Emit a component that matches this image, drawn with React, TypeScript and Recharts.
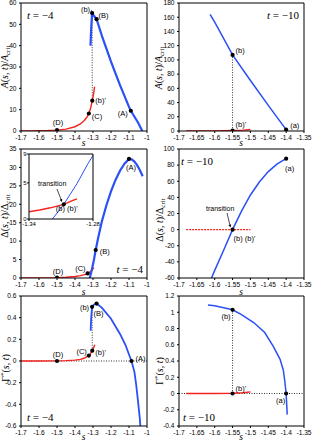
import React from "react";
import { ComposedChart, Line, Scatter, XAxis, YAxis, ReferenceLine } from "recharts";

const BLUE = "#2b50f5";
const RED = "#f5231e";
const SANS = "'Liberation Sans', Arial, sans-serif";
const SERIF = "'Liberation Serif', 'Times New Roman', serif";

// tick values
const S_T4 = [-1.7, -1.6, -1.5, -1.4, -1.3, -1.2, -1.1, -1];
const S_T10 = [-1.7, -1.65, -1.6, -1.55, -1.5, -1.45, -1.4, -1.35];
const A_T4 = [0, 10, 20, 30, 40, 50, 60];
const A_T10 = [0, 20, 40, 60, 80, 100, 120, 140, 160, 180];
const D_T4 = [0, 5, 10, 15, 20, 25, 30, 35];
const D_T10 = [-60, -40, -20, 0, 20, 40, 60, 80, 100];
const G_T4 = [-0.6, -0.4, -0.2, 0, 0.2, 0.4, 0.6];
const G_T10 = [-0.4, -0.2, 0, 0.2, 0.4, 0.6, 0.8, 1, 1.2];
const IN_S = [-1.34, -1.28];
const IN_D = [0, 5, 9];

// t = -4 : A(s,t)/Acrit
const A4_RED = [[-1.7, 0], [-1.65, 0.05], [-1.6, 0.1], [-1.55, 0.2], [-1.5, 0.4], [-1.45, 0.9], [-1.4, 2], [-1.37, 3.3], [-1.35, 4.8], [-1.335, 6.3], [-1.323, 8.2], [-1.313, 10.8], [-1.304, 14.2], [-1.297, 17.3], [-1.291, 20.8]];
const A4_BLUE = [[-1.314, 40], [-1.31, 48], [-1.305, 55.3], [-1.295, 54], [-1.28, 52.4], [-1.25, 44.5], [-1.2, 32.5], [-1.15, 21.5], [-1.1, 11.3], [-1.09, 9.5], [-1.05, 4], [-1.026, 0]];
const A4_MARKS: [number, number, string][] = [[-1.5, 0.4, "(D)"], [-1.323, 8.2, "(C)"], [-1.304, 14.2, "(b)'"], [-1.305, 55.3, "(b)"], [-1.28, 52.4, "(B)"], [-1.09, 9.5, "(A)"]];

// t = -10 : A(s,t)/Acrit
const A10_RED = [[-1.68, 0], [-1.6, 0.1], [-1.55, 0.6], [-1.52, 1.2], [-1.5, 2.2]];
const A10_BLUE = [[-1.613, 164], [-1.6, 153], [-1.55, 107], [-1.5, 71], [-1.45, 36], [-1.4, 2]];
const A10_MARKS: [number, number, string][] = [[-1.55, 107, "(b)"], [-1.55, 0.6, "(b)'"], [-1.4, 2, "(a)"]];

// t = -4 : Delta(s,t)/Delta_crit
const D4_RED = [[-1.7, 0], [-1.6, 0.02], [-1.5, 0.1], [-1.45, 0.2], [-1.4, 0.4], [-1.37, 0.65], [-1.34, 1.0], [-1.33, 1.25], [-1.32, 1.55], [-1.3074, 2.03], [-1.3, 2.5], [-1.295, 2.8]];
const D4_BLUE = [[-1.318, 0], [-1.3074, 2.03], [-1.295, 4.9], [-1.285, 7.6], [-1.27, 11.2], [-1.25, 15.5], [-1.225, 19.8], [-1.2, 23.5], [-1.175, 26.6], [-1.15, 29.1], [-1.125, 31], [-1.1, 32.3], [-1.085, 32.2], [-1.07, 31.6], [-1.055, 30.6], [-1.04, 29.3], [-1.024, 27.6]];
const D4_MARKS: [number, number, string][] = [[-1.5, 0.1, "(D)"], [-1.33, 1.25, "(C)"], [-1.285, 7.6, "(B)"], [-1.1, 32.3, "(A)"]];
const IN_MARKS: [number, number, string][] = [[-1.3074, 2.03, "(b) (b)'"]];

// t = -10 : Delta(s,t)/Delta_crit
const D10_RED = [[-1.68, 0], [-1.6, 0], [-1.55, 0], [-1.5, 0]];
const D10_BLUE = [[-1.609, -60], [-1.6, -50.5], [-1.575, -25.5], [-1.55, 0], [-1.525, 23], [-1.5, 43], [-1.475, 59], [-1.45, 72], [-1.425, 81.5], [-1.4, 88]];
const D10_MARKS: [number, number, string][] = [[-1.4, 88, "(a)"], [-1.55, 0, "(b) (b)'"]];

// t = -4 : Gamma*(s,t)
const G4_RED = [[-1.7, 0], [-1.6, 0], [-1.5, 0.001], [-1.45, 0.003], [-1.4, 0.008], [-1.37, 0.015], [-1.35, 0.025], [-1.323, 0.05], [-1.313, 0.07], [-1.304, 0.095], [-1.297, 0.12], [-1.29, 0.15]];
const G4_BLUE = [[-1.313, 0.28], [-1.31, 0.4], [-1.305, 0.5], [-1.295, 0.52], [-1.28, 0.53], [-1.25, 0.49], [-1.2, 0.39], [-1.15, 0.25], [-1.12, 0.15], [-1.1, 0.06], [-1.086, 0], [-1.07, -0.1], [-1.06, -0.22], [-1.05, -0.37], [-1.04, -0.53], [-1.037, -0.6]];
const G4_MARKS: [number, number, string][] = [[-1.5, 0, "(D)"], [-1.323, 0.05, "(C)"], [-1.304, 0.095, "(b)'"], [-1.305, 0.5, "(b)"], [-1.28, 0.53, "(B)"], [-1.086, 0, "(A)"]];

// t = -10 : Gamma*(s,t)
const G10_RED = [[-1.68, 0], [-1.6, 0], [-1.55, 0.003], [-1.52, 0.01], [-1.5, 0.02]];
const G10_BLUE = [[-1.619, 1.09], [-1.6, 1.08], [-1.55, 1.03], [-1.525, 0.97], [-1.49, 0.87], [-1.46, 0.75], [-1.436, 0.58], [-1.417, 0.42], [-1.408, 0.29], [-1.404, 0.16], [-1.4, 0], [-1.397, -0.26]];
const G10_MARKS: [number, number, string][] = [[-1.55, 1.03, "(b)"], [-1.55, 0, "(b)'"], [-1.4, 0, "(a)"]];

type Anchor = "start" | "middle" | "end";
type Lbl = Record<string, [number, number, Anchor]>;

const pts = (rows: number[][]) => rows.map(([s, v]) => ({ s, v }));
const fmt = (v: number) => String(v);

function Panel(props: {
  box: [number, number, number, number];
  xd: [number, number];
  xt: number[];
  yd: [number, number];
  yt: number[];
  red: number[][];
  blue: number[][];
  marks: [number, number, string][];
  lbl: Lbl;
  guide?: [string, string];
  zero?: boolean;
  redDash?: string;
  yw?: number;
  xh?: number;
  fs?: number;
  lw?: number;
  tm?: number;
}) {
  const { box, xd, xt, yd, yt, red, blue, marks, lbl, guide, zero, redDash } = props;
  const yw = props.yw ?? 22;
  const xh = props.xh ?? 15;
  const fs = props.fs ?? 6.6;
  const lw = props.lw ?? 1.8;
  const tm = props.tm ?? 2.5;
  const [bx, by, bw, bh] = box;
  const top = 5;
  const right = 10;
  const markData = marks.map(([s, v, name]) => ({ s, v, name }));
  let guideData: { s: number; v: number }[] = [];
  if (guide) {
    const a = markData.find((m) => m.name === guide[0])!;
    const b = markData.find((m) => m.name === guide[1])!;
    guideData = [{ s: a.s, v: a.v }, { s: b.s, v: b.v }];
  }
  const tickStyle = { fontSize: fs, fill: "#000", fontFamily: SANS };
  const shape = (p: any) => {
    const { cx, cy, payload } = p;
    const l = lbl[payload.name] || [4, 0, "start"];
    return (
      <g>
        <circle cx={cx} cy={cy} r={2.1} fill="#000" />
        <text x={cx + l[0]} y={cy + l[1]} textAnchor={l[2]} fontSize={7.5} fontFamily={SANS} fill="#000">
          {payload.name}
        </text>
      </g>
    );
  };
  return (
    <div style={{ position: "absolute", left: bx - yw, top: by - top }}>
      <ComposedChart
        width={bw + yw + right}
        height={bh + top + xh}
        margin={{ top: top - 1, right: right - 1, bottom: 0, left: 0 }}
      >
        <XAxis
          dataKey="s"
          type="number"
          domain={xd}
          ticks={xt}
          interval={0}
          allowDataOverflow
          tickFormatter={fmt}
          tick={tickStyle}
          tickSize={2}
          tickMargin={tm}
          height={xh}
          stroke="#000"
        />
        <XAxis
          xAxisId="top"
          orientation="top"
          mirror
          type="number"
          domain={xd}
          ticks={xt}
          interval={0}
          allowDataOverflow
          tick={false}
          tickSize={2.5}
          height={1}
          stroke="#000"
        />
        <YAxis
          dataKey="v"
          type="number"
          domain={yd}
          ticks={yt}
          interval={0}
          allowDataOverflow
          tickFormatter={fmt}
          tick={tickStyle}
          tickSize={2}
          tickMargin={tm}
          width={yw}
          stroke="#000"
        />
        <YAxis
          yAxisId="right"
          orientation="right"
          mirror
          type="number"
          domain={yd}
          ticks={yt}
          interval={0}
          allowDataOverflow
          tick={false}
          tickSize={2.5}
          width={1}
          stroke="#000"
        />
        {zero && <ReferenceLine y={0} stroke="#000" strokeWidth={0.8} strokeDasharray="1 1.5" />}
        {guide && (
          <Line data={guideData} dataKey="v" stroke="#000" strokeWidth={0.8} strokeDasharray="1 1.5" dot={false} isAnimationActive={false} />
        )}
        <Line data={pts(red)} dataKey="v" stroke={RED} strokeWidth={1.4} strokeDasharray={redDash} dot={false} isAnimationActive={false} />
        <Line data={pts(blue)} dataKey="v" stroke={BLUE} strokeWidth={lw} dot={false} isAnimationActive={false} />
        <Scatter data={markData} shape={shape} isAnimationActive={false} />
      </ComposedChart>
    </div>
  );
}

function Arrow({ x1, y1, x2, y2 }: { x1: number; y1: number; x2: number; y2: number }) {
  const dx = x2 - x1;
  const dy = y2 - y1;
  const len = Math.hypot(dx, dy);
  const ux = dx / len;
  const uy = dy / len;
  const hx = x2 - ux * 3;
  const hy = y2 - uy * 3;
  return (
    <g>
      <line x1={x1} y1={y1} x2={hx} y2={hy} stroke="#000" strokeWidth={0.7} />
      <polygon points={`${x2},${y2} ${hx - uy * 1.4},${hy + ux * 1.4} ${hx + uy * 1.4},${hy - ux * 1.4}`} fill="#000" />
    </g>
  );
}

function YTitle({ x, y, kind }: { x: number; y: number; kind: "A" | "D" | "G" }) {
  return (
    <text transform={`translate(${x},${y}) rotate(-90)`} textAnchor="middle" fontFamily={SERIF} fontSize={10} fill="#000">
      {kind === "A" && (
        <>
          <tspan fontStyle="italic">A</tspan>(<tspan fontStyle="italic">s</tspan>, <tspan fontStyle="italic">t</tspan>)/
          <tspan fontStyle="italic">A</tspan>
          <tspan fontSize={7} dy={2}>crit</tspan>
        </>
      )}
      {kind === "D" && (
        <>
          Δ(<tspan fontStyle="italic">s</tspan>, <tspan fontStyle="italic">t</tspan>)/Δ
          <tspan fontSize={7} dy={2}>crit</tspan>
        </>
      )}
      {kind === "G" && (
        <>
          Γ<tspan fontSize={7} dy={-4}>*</tspan>
          <tspan dy={4}>(</tspan>
          <tspan fontStyle="italic">s</tspan>, <tspan fontStyle="italic">t</tspan>)
        </>
      )}
    </text>
  );
}

function TLabel({ x, y, val, anchor = "start" }: { x: number; y: number; val: string; anchor?: Anchor }) {
  return (
    <text x={x} y={y} textAnchor={anchor} fontFamily={SERIF} fontSize={11} fill="#000">
      <tspan fontStyle="italic">t</tspan> = {val}
    </text>
  );
}

function SLabel({ x, y }: { x: number; y: number }) {
  return (
    <text x={x} y={y} textAnchor="middle" fontFamily={SERIF} fontStyle="italic" fontSize={9.5} fill="#000">
      s
    </text>
  );
}

export default function App() {
  const L = 21;
  const R = 179;
  return (
    <div style={{ position: "absolute", left: 0, top: 0, width: 313, height: 441, background: "#fff", overflow: "hidden" }}>
      <Panel
        box={[L, 4, 125, 127]}
        xd={[-1.7, -1]}
        xt={S_T4}
        yd={[0, 60]}
        yt={A_T4}
        red={A4_RED}
        blue={A4_BLUE}
        marks={A4_MARKS}
        guide={["(b)'", "(b)"]}
        lw={2.2}
        lbl={{ "(D)": [1, -5, "middle"], "(C)": [3, 5, "start"], "(b)'": [3, 2, "start"], "(b)": [-2, -1.5, "end"], "(B)": [2, -1.5, "start"], "(A)": [-3, 5, "end"] }}
      />
      <Panel
        box={[R, 4, 124, 127]}
        xd={[-1.7, -1.35]}
        xt={S_T10}
        yd={[0, 180]}
        yt={A_T10}
        red={A10_RED}
        blue={A10_BLUE}
        marks={A10_MARKS}
        guide={["(b)'", "(b)"]}
        lw={1.5}
        lbl={{ "(b)": [3, -1.5, "start"], "(b)'": [3, -4, "start"], "(a)": [4, -2, "start"] }}
      />
      <Panel
        box={[L, 150, 125, 128]}
        xd={[-1.7, -1]}
        xt={S_T4}
        yd={[0, 35]}
        yt={D_T4}
        red={D4_RED}
        blue={D4_BLUE}
        marks={D4_MARKS}
        lw={2.2}
        lbl={{ "(D)": [1, -4, "middle"], "(C)": [-2, -2.7, "end"], "(B)": [4, 4, "start"], "(A)": [2, 11, "middle"] }}
      />
      <Panel
        box={[29, 155, 63, 64]}
        xd={[-1.34, -1.28]}
        xt={IN_S}
        yd={[0, 9]}
        yt={IN_D}
        red={D4_RED}
        blue={D4_BLUE}
        marks={IN_MARKS}
        yw={8}
        xh={11}
        fs={6}
        tm={0.5}
        lw={1}
        lbl={{ "(b) (b)'": [-8, 7, "start"] }}
      />
      <Panel
        box={[R, 150, 124, 128]}
        xd={[-1.7, -1.35]}
        xt={S_T10}
        yd={[-60, 100]}
        yt={D_T10}
        red={D10_RED}
        blue={D10_BLUE}
        marks={D10_MARKS}
        redDash="2 1"
        lw={1.5}
        lbl={{ "(a)": [3.5, 12, "middle"], "(b) (b)'": [1, 11.7, "start"] }}
      />
      <Panel
        box={[L, 297, 125, 129]}
        xd={[-1.7, -1]}
        xt={S_T4}
        yd={[-0.6, 0.6]}
        yt={G_T4}
        red={G4_RED}
        blue={G4_BLUE}
        marks={G4_MARKS}
        guide={["(b)'", "(b)"]}
        zero
        lw={1.8}
        lbl={{ "(D)": [1, -4, "middle"], "(C)": [-2, -2, "end"], "(b)'": [3, 4, "start"], "(b)": [-3, 2.7, "end"], "(B)": [-3, 12, "start"], "(A)": [4, -0.5, "start"] }}
      />
      <Panel
        box={[R, 297, 124, 129]}
        xd={[-1.7, -1.35]}
        xt={S_T10}
        yd={[-0.4, 1.2]}
        yt={G_T10}
        red={G10_RED}
        blue={G10_BLUE}
        marks={G10_MARKS}
        guide={["(b)'", "(b)"]}
        zero
        lw={1.5}
        lbl={{ "(b)": [-2, 8.7, "end"], "(b)'": [3, -3, "start"], "(a)": [-1, 9, "end"] }}
      />
      <svg width={313} height={441} style={{ position: "absolute", left: 0, top: 0, pointerEvents: "none" }}>
        <YTitle x={8} y={67} kind="A" />
        <YTitle x={162} y={68} kind="A" />
        <YTitle x={8} y={216} kind="D" />
        <YTitle x={163} y={220} kind="D" />
        <YTitle x={8.5} y={368} kind="G" />
        <YTitle x={163} y={371} kind="G" />
        <SLabel x={83.5} y={146} />
        <SLabel x={241} y={146} />
        <SLabel x={83.5} y={295} />
        <SLabel x={241} y={295} />
        <SLabel x={83.5} y={439.5} />
        <SLabel x={241} y={439.5} />
        <TLabel x={27} y={19} val="−4" />
        <TLabel x={299} y={19} val="−10" anchor="end" />
        <TLabel x={143} y={273} val="−4" anchor="end" />
        <TLabel x={181} y={165} val="−10" />
        <TLabel x={27} y={421} val="−4" />
        <TLabel x={183} y={421} val="−10" />
        <text x={38} y={186} fontFamily={SANS} fontSize={7} fill="#000">transition</text>
        <Arrow x1={57} y1={189} x2={62} y2={202} />
        <text x={206} y={211} fontFamily={SANS} fontSize={7} fill="#000">transition</text>
        <Arrow x1={227} y1={213} x2={230.5} y2={227.5} />
      </svg>
    </div>
  );
}
